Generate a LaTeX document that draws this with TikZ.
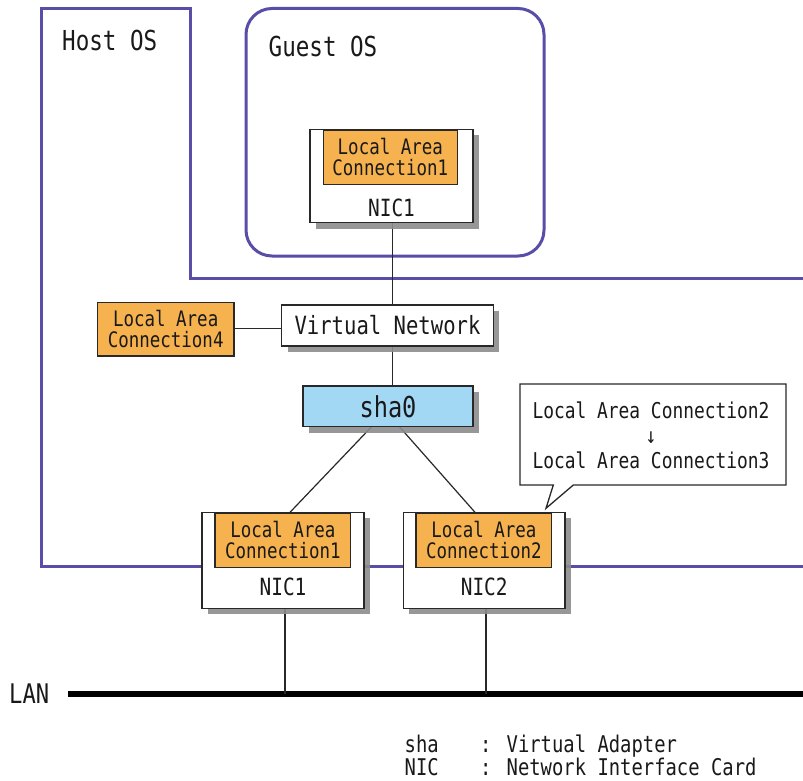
\documentclass[tikz,border=0pt]{standalone}
\usepackage{fontspec}
\newfontfamily\mf[FakeStretch=0.82]{DejaVu Sans Mono}
\usetikzlibrary{shadows,calc}
\definecolor{osblue}{RGB}{88,78,168}
\definecolor{lacorange}{RGB}{246,178,78}
\definecolor{shablue}{RGB}{162,216,244}
\definecolor{edgegray}{RGB}{40,40,40}
\definecolor{txtgray}{RGB}{25,25,25}
\newcommand\fsz[1]{\fontsize{#1}{#1}\selectfont}
\begin{document}
\begin{tikzpicture}[x=1pt,y=-1pt,
  box/.style={draw=edgegray, line width=1.4pt, fill=white, inner sep=0pt, text=txtgray,
    drop shadow={shadow xshift=6pt, shadow yshift=-6pt, fill=black!45, opacity=0.9}},
  lac/.style={draw=edgegray, line width=1.4pt, fill=lacorange, inner sep=0pt, align=center,
    text=txtgray, font={\mf\fsz{21.3}}},
  wire/.style={draw=edgegray, line width=1.2pt},
  osline/.style={draw=osblue, line width=3pt},
  lbl/.style={inner sep=0pt, text=txtgray},
]
\path[fill=white, use as bounding box] (0,0) rectangle (803,781);

% Host OS and Guest OS outlines
\draw[osline] (803,278) -- (190,278) -- (190,8.5) -- (41.5,8.5) -- (41.5,566) -- (803,566);
\draw[osline, rounded corners=26pt] (246,8.5) rectangle (544,256);
\node[lbl, anchor=west, font={\mf\fsz{27.5}}] (hostlbl) at (62,40) {Host OS};
\node[lbl, anchor=west, font={\mf\fsz{27.5}}] (guestlbl) at (268.5,46) {Guest OS};

% LAN
\coordinate (lanL) at (68,694);
\coordinate (lanR) at (803,694);
\draw[line width=5.5pt, black] (lanL) -- (lanR);
\node[lbl, anchor=west, font={\mf\fsz{27}}] (lanlbl) at (9,694) {LAN};

% node placement
\coordinate (gnicC) at (391.5,176);
\coordinate (vnC) at (387.5,325.5);
\coordinate (shaC) at (388,406.3);
\coordinate (h1C) at (283,560.3);
\coordinate (h2C) at (484.2,560.3);

% wires (under the boxes)
\coordinate (vx) at (392.7,0);
\coordinate (gbot) at (vx |- 0,222.7);
\coordinate (vtop) at (vx |- 0,305);
\coordinate (vbot) at (vx |- 0,346);
\coordinate (stop) at (vx |- 0,386);
\draw[wire] (gbot) -- (vtop);
\draw[wire] (vbot) -- (stop);
\draw[wire] (234,328.3) -- (282,328.3);
\draw[wire] (371.7,426.6) -- (290,512.3);
\draw[wire] (399.3,426.6) -- (475,512.3);
\coordinate (d1) at (285,608);
\coordinate (d2) at (486,608);
\draw[wire] (d1) -- (d1 |- lanL);
\draw[wire] (d2) -- (d2 |- lanL);

% Guest NIC
\node[box, minimum width=163pt, minimum height=93.4pt] (gnic) at (gnicC) {};
\node[lac, anchor=north, minimum width=134pt, minimum height=54.7pt] (glac) at (390.3,129.3) {Local Area\\Connection1};
\node[lbl, font={\mf\fsz{23.7}}] (gnictxt) at (391.5,208.3) {NIC1};

% Virtual Network and LAC4
\node[box, minimum width=211.6pt, minimum height=41pt, font={\mf\fsz{25.1}}] (vn) at (vnC) {Virtual Network};
\node[lac, minimum width=136.7pt, minimum height=53.3pt] (lac4) at (165.7,329.3) {Local Area\\Connection4};

% sha0
\node[box, fill=shablue, minimum width=170pt, minimum height=40.5pt, font={\mf\fsz{28.8}}] (sha0) at (shaC) {sha0};

% Host NIC1
\node[box, minimum width=162.3pt, minimum height=96pt] (hnic1) at (h1C) {};
\node[lac, anchor=north, minimum width=135.7pt, minimum height=54.4pt] (hlac1) at (282.9,512.3) {Local Area\\Connection1};
\node[lbl, font={\mf\fsz{23.7}}] (hnic1txt) at (283,587.3) {NIC1};

% Host NIC2
\node[box, minimum width=161.7pt, minimum height=96pt] (hnic2) at (h2C) {};
\node[lac, anchor=north, minimum width=135.7pt, minimum height=54.4pt] (hlac2) at (483.9,512.3) {Local Area\\Connection2};
\node[lbl, font={\mf\fsz{23.7}}] (hnic2txt) at (484.2,587.3) {NIC2};

% Callout
\draw[draw=edgegray, line width=1.3pt, fill=white, line join=miter]
  (520,384) -- (786,384) -- (786,485) -- (573.3,485) -- (546,508.3) -- (553.3,485) -- (520,485) -- cycle;
\node[lbl, align=center, font={\mf\fontsize{21.8}{25}\selectfont}] (calltxt) at (651,435) {Local Area Connection2\\↓\\Local Area Connection3};

% Legend
\node[lbl, anchor=base west, font={\mf\fsz{23}}] (leg1a) at (404.5,752.3) {sha};
\node[lbl, anchor=base west, font={\mf\fsz{23}}] (leg1b) at (480,752.3) {: Virtual Adapter};
\node[lbl, anchor=base west, font={\mf\fsz{23}}] (leg2a) at (404.5,775.7) {NIC};
\node[lbl, anchor=base west, font={\mf\fsz{23}}] (leg2b) at (480,775.7) {: Network Interface Card};
\end{tikzpicture}
\end{document}
